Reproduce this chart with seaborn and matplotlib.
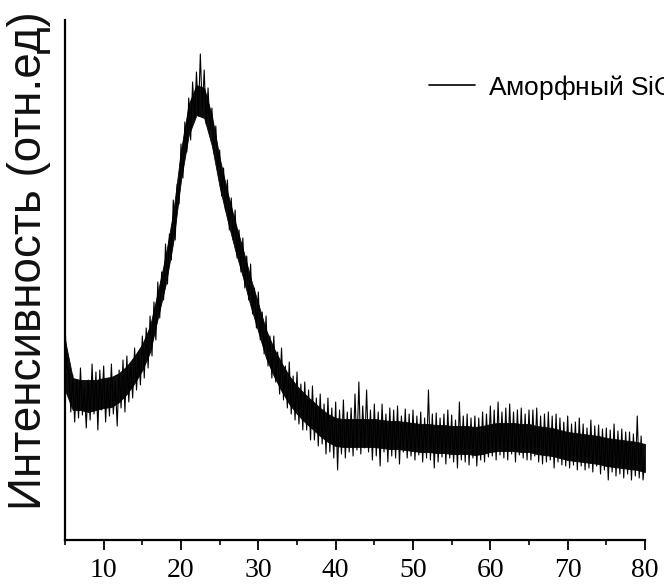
import numpy as np
import pandas as pd
import matplotlib
matplotlib.use("Agg")
import matplotlib.pyplot as plt
import seaborn as sns

# 2-theta grid (degrees), step 0.25 from 5 to 80
two_theta_start = 5.0
two_theta_step = 0.25

# Noisy intensity trace (arb. units), 4 samples per degree
intensity = [
    215, 172, 170, 128,   # 5
    165, 118, 160, 122,   # 6
    172, 125, 152, 112,   # 7
    160, 120, 176, 126,   # 8
    168, 110, 170, 130,   # 9
    174, 118, 160, 124,   # 10
    176, 126, 158, 114,   # 11
    170, 132, 180, 128,   # 12
    184, 138, 176, 142,   # 13
    192, 150, 188, 155,   # 14
    204, 162, 212, 172,   # 15
    224, 184, 238, 200,   # 16
    258, 222, 268, 240,   # 17
    296, 256, 306, 280,   # 18
    340, 300, 356, 336,   # 19
    396, 362, 418, 388,   # 20
    442, 400, 458, 422,   # 21
    468, 424, 486, 430,   # 22
    470, 416, 452, 410,   # 23
    432, 388, 414, 372,   # 24
    390, 344, 372, 330,   # 25
    360, 310, 342, 300,   # 26
    330, 282, 310, 268,   # 27
    302, 252, 284, 240,   # 28
    276, 226, 252, 212,   # 29
    248, 200, 228, 186,   # 30
    224, 174, 204, 162,   # 31
    204, 158, 188, 146,   # 32
    192, 140, 174, 132,   # 33
    178, 126, 164, 120,   # 34
    168, 116, 156, 110,   # 35
    158, 110, 150, 100,   # 36
    154, 100, 142, 94,    # 37
    146, 96, 136, 86,     # 38
    142, 88, 132, 82,     # 39
    138, 70, 130, 86,     # 40
    140, 82, 128, 88,     # 41
    132, 84, 146, 90,     # 42
    158, 86, 134, 92,     # 43
    150, 88, 130, 80,     # 44
    136, 84, 128, 74,     # 45
    136, 88, 126, 78,     # 46
    132, 84, 130, 82,     # 47
    134, 76, 124, 88,     # 48
    131, 82, 126, 84,     # 49
    130, 80, 124, 85,     # 50
    128, 78, 122, 82,     # 51
    150, 80, 126, 72,     # 52
    127, 78, 122, 83,     # 53
    126, 76, 130, 82,     # 54
    125, 78, 120, 72,     # 55
    138, 80, 124, 78,     # 56
    126, 75, 122, 82,     # 57
    124, 74, 122, 80,     # 58
    128, 78, 126, 83,     # 59
    134, 84, 130, 80,     # 60
    138, 85, 128, 82,     # 61
    132, 80, 136, 86,     # 62
    128, 78, 130, 85,     # 63
    132, 82, 126, 80,     # 64
    130, 80, 130, 84,     # 65
    132, 78, 124, 76,     # 66
    126, 78, 128, 80,     # 67
    124, 72, 126, 78,     # 68
    122, 75, 118, 74,     # 69
    124, 72, 116, 75,     # 70
    118, 70, 122, 74,     # 71
    116, 70, 112, 72,     # 72
    120, 68, 114, 74,     # 73
    115, 66, 111, 70,     # 74
    112, 60, 110, 68,     # 75
    116, 64, 109, 66,     # 76
    111, 62, 108, 66,     # 77
    108, 60, 106, 64,     # 78
    124, 62, 104, 60,     # 79
    84,                   # 80
]

# Dense (solid black) part of the trace, read per whole degree 5..80
band_upper = [
    200, 162, 160, 160, 160, 162, 163, 167, 174, 184,   # 5-14
    196, 214, 248, 284, 328, 390, 436, 455, 452, 424,   # 15-24
    382, 348, 318, 291, 262, 236, 210, 192, 177, 164,   # 25-34
    154, 146, 139, 132, 126, 122, 121, 121, 121, 121,   # 35-44
    121, 120, 119, 119, 118, 117, 116, 116, 115, 115,   # 45-54
    114, 114, 114, 113, 114, 116, 117, 117, 117, 116,   # 55-64
    116, 114, 113, 112, 110, 108, 107, 106, 105, 104,   # 65-74
    102, 101, 100, 99, 98, 96,                          # 75-80
]
band_lower = [
    150, 130, 130, 128, 130, 132, 133, 138, 146, 157,   # 5-14
    170, 188, 222, 255, 298, 360, 405, 425, 422, 394,   # 15-24
    353, 320, 290, 263, 234, 208, 182, 164, 149, 136,   # 25-34
    126, 118, 111, 104, 98, 94, 93, 93, 93, 93,         # 35-44
    93, 92, 91, 91, 90, 89, 88, 88, 87, 87,             # 45-54
    86, 86, 86, 85, 86, 88, 89, 89, 89, 88,             # 55-64
    88, 86, 85, 84, 82, 80, 79, 78, 77, 76,             # 65-74
    74, 73, 72, 71, 70, 68,                             # 75-80
]

x_ticks_major = [10, 20, 30, 40, 50, 60, 70, 80]
x_ticks_minor = [5, 15, 25, 35, 45, 55, 65, 75]
y_label = "Интенсивность (отн.ед)"
series_label = "Аморфный SiO$_2$"

two_theta = np.arange(len(intensity)) * two_theta_step + two_theta_start
band_theta = np.arange(len(band_upper)) + two_theta_start
df = pd.DataFrame({"two_theta": two_theta, "intensity": intensity})

sns.set_theme(style="white")
plt.rcParams["font.family"] = ["Liberation Sans", "DejaVu Sans"]

fig = plt.figure(figsize=(6.64, 5.86), dpi=100)
ax = fig.add_axes([65 / 664, 1 - 540 / 586, 580 / 664, 520 / 586])

ax.fill_between(band_theta, band_lower, band_upper, color="black",
                linewidth=0.6, edgecolor="black", alpha=0.95)
sns.lineplot(data=df, x="two_theta", y="intensity", ax=ax, color="black",
             linewidth=0.8, label=series_label, estimator=None)

ax.set_xlim(5, 80)
ax.set_ylim(0, 520)

for s in ["top", "right"]:
    ax.spines[s].set_visible(False)
for s in ["left", "bottom"]:
    ax.spines[s].set_color("black")
    ax.spines[s].set_linewidth(1.6)

ax.set_yticks([])
ax.set_xticks(x_ticks_major)
ax.set_xticks(x_ticks_minor, minor=True)
ax.set_xticklabels([str(t) for t in x_ticks_major],
                   fontfamily="Liberation Serif", fontsize=20)
ax.tick_params(axis="x", which="major", direction="out", length=7, width=1.3,
               pad=6, colors="black", bottom=True)
ax.tick_params(axis="x", which="minor", direction="out", length=3.5, width=1.2,
               colors="black", bottom=True)

ax.set_xlabel("")
ax.set_ylabel(y_label, fontsize=33, color="#111111")
ax.yaxis.label.set(ha="center", va="center", rotation_mode="anchor")
ax.yaxis.set_label_coords(-0.062, 0.537)

leg = ax.legend(loc="center left", bbox_to_anchor=(429 / 664, 1 - 87 / 586),
                bbox_transform=fig.transFigure, frameon=False, fontsize=19,
                handlelength=1.75, handletextpad=0.5, borderpad=0,
                borderaxespad=0)
for text in leg.get_texts():
    text.set_color("black")
for line in leg.get_lines():
    line.set_linewidth(1.2)

fig.savefig("out.png", dpi=100)
